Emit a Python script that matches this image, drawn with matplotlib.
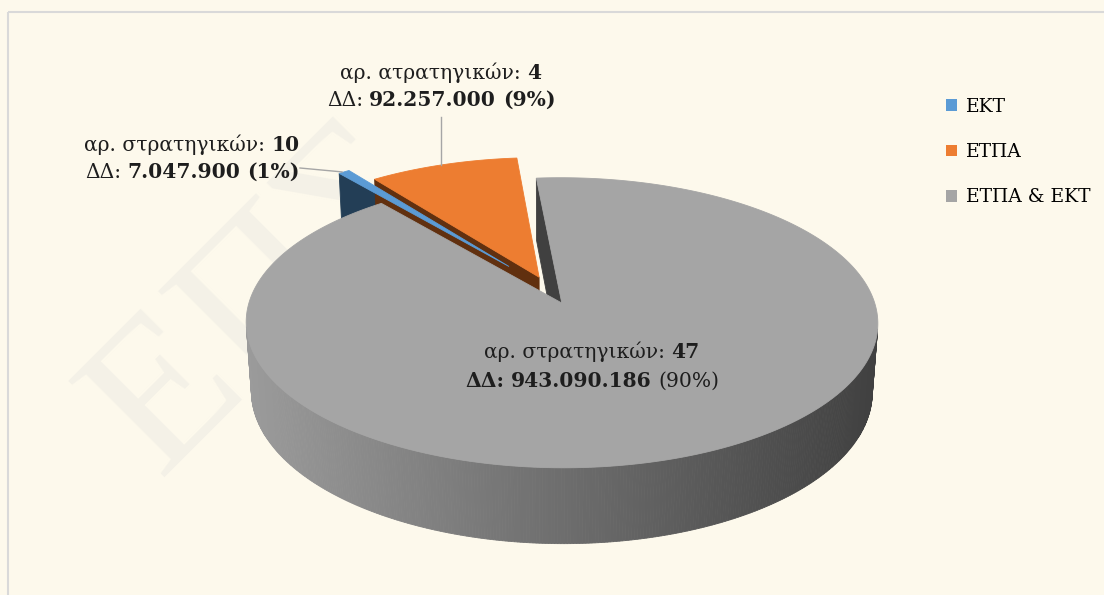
import numpy as np
import matplotlib
matplotlib.use('Agg')
import matplotlib.pyplot as plt
from matplotlib.patches import Patch, Rectangle

# ---------------- data ----------------
categories = ['ΕΚΤ', 'ΕΤΠΑ', 'ΕΤΠΑ & ΕΚΤ']
amounts = [7047900, 92257000, 943090186]
strategies = [10, 4, 47]
count_prefix = ['αρ. στρατηγικών:', 'αρ. ατρατηγικών:', 'αρ. στρατηγικών:']

top_colors = ['#5B9BD5', '#ED7D31', '#A5A5A5']
wall_colors = ['#233E56', '#61300F', '#404040']
explode = [0.22, 0.10, 0.10]
BG = '#FDF9EC'

# ---------------- geometry / style ----------------
W, H = 1104, 595
FIRST_ANGLE = 320.7      # degrees, clockwise from 12 o'clock
THICK = 0.25
PHI = np.deg2rad(26.7)
DIST = 6.65
SCALE = 309 * DIST
CX, CY = 550.0, 290.0
SERIF = 'DejaVu Serif'
FS = 14.6

fig = plt.figure(figsize=(W / 100, H / 100), dpi=100, facecolor=BG)
ax = fig.add_axes([0, 0, 1, 1])
ax.set_xlim(0, W)
ax.set_ylim(H, 0)
ax.axis('off')
ax.set_facecolor(BG)

# faint watermark
ax.text(265, 300, 'ΕΠΣ', rotation=45, fontsize=150, family='Liberation Serif', color='#F4F1E7',
        ha='center', va='center', zorder=0)
ax.add_patch(Rectangle((8, 12), W, H, fill=False, edgecolor='#D9D9D9', lw=1.5, zorder=0.5))

c, s = np.cos(PHI), np.sin(PHI)
CAM = np.array([0.0, -DIST * c, DIST * s])


def proj(X, Y, Z):
    X = np.asarray(X, float); Y = np.asarray(Y, float); Z = np.asarray(Z, float)
    vy = Y + DIST * c
    vz = Z - DIST * s
    depth = vy * c - vz * s
    w = vy * s + vz * c
    return CX + SCALE * X / depth, CY - SCALE * w / depth, depth


total = float(sum(amounts))
fracs = [a / total for a in amounts]
walls = []
tops = []
anchors = []
start = FIRST_ANGLE
for i, f in enumerate(fracs):
    th1 = start
    th2 = start + f * 360.0
    start = th2
    mid = np.deg2rad((th1 + th2) / 2)
    ox, oy = explode[i] * np.sin(mid), explode[i] * np.cos(mid)
    n = max(6, int((th2 - th1) / 0.5))
    ang = np.deg2rad(np.linspace(th1, th2, n))
    rx_ = ox + np.sin(ang)
    ry_ = oy + np.cos(ang)
    px, py, _ = proj(np.r_[ox, rx_], np.r_[oy, ry_], np.zeros(n + 1))
    tops.append((px, py, top_colors[i]))
    ax_, ay_, _ = proj(ox + np.sin(mid), oy + np.cos(mid), 0.0)
    anchors.append((float(ax_), float(ay_)))
    for k in range(n - 1):
        a, b = ang[k], ang[k + 1]
        m = (a + b) / 2
        P = np.array([ox + np.sin(m), oy + np.cos(m), -THICK / 2])
        nrm = np.array([np.sin(m), np.cos(m), 0.0])
        if np.dot(nrm, CAM - P) <= 0:
            continue
        X = [ox + np.sin(a), ox + np.sin(b), ox + np.sin(b), ox + np.sin(a)]
        Y = [oy + np.cos(a), oy + np.cos(b), oy + np.cos(b), oy + np.cos(a)]
        Z = [0, 0, -THICK, -THICK]
        qx, qy, qd = proj(X, Y, Z)
        if i == 2:
            t = np.clip((qx.mean() - 246) / (878 - 246), 0, 1)
            g = 0.61 - 0.36 * t
            col = (g, g, g)
        else:
            col = wall_colors[i]
        walls.append((qd.mean(), qx, qy, col))
    for th, sign in ((th1, -1), (th2, 1)):
        tr = np.deg2rad(th)
        nrm = np.array([sign * np.cos(tr), -sign * np.sin(tr), 0.0])
        X = [ox, ox + np.sin(tr), ox + np.sin(tr), ox]
        Y = [oy, oy + np.cos(tr), oy + np.cos(tr), oy]
        Z = [0, 0, -THICK, -THICK]
        P = np.array([np.mean(X), np.mean(Y), -THICK / 2])
        if np.dot(nrm, CAM - P) <= 0:
            continue
        qx, qy, qd = proj(X, Y, Z)
        walls.append((qd.mean(), qx, qy, wall_colors[i]))

walls.sort(key=lambda w_: -w_[0])
for z, (d, qx, qy, col) in enumerate(walls):
    ax.fill(qx, qy, color=col, lw=0.6, ec=col, zorder=2 + z * 1e-4)
for px, py, col in tops:
    ax.fill(px, py, color=col, lw=0.6, ec=col, zorder=3)

# ---------------- labels ----------------
renderer = fig.canvas.get_renderer()


def measure(txt, weight, size):
    t = ax.text(0, 0, txt, fontsize=size, fontweight=weight, family=SERIF)
    wd = t.get_window_extent(renderer=renderer).width
    t.remove()
    return wd


SPACE = measure('x x', 'normal', FS) - measure('xx', 'normal', FS)


def rich(xc, yb, parts, size=FS, color='#1E1E1E'):
    widths = [measure(p, w, size) for p, w in parts]
    tot = sum(widths) + SPACE * (len(parts) - 1)
    x = xc - tot / 2
    for (p, w), wd in zip(parts, widths):
        ax.text(x, yb, p, fontsize=size, fontweight=w, family=SERIF, color=color,
                ha='left', va='baseline', zorder=5)
        x += wd + SPACE


def fmt(v):
    return f'{v:,}'.replace(',', '.')


pcts = [round(100 * f) for f in fracs]

label_pos = [(192, 151, 178), (441, 79, 106), (592, 358, 387)]
for i in range(3):
    xc, y1, y2 = label_pos[i]
    rich(xc, y1, [(count_prefix[i], 'normal'), (str(strategies[i]), 'bold')])
    if i < 2:
        rich(xc, y2, [('ΔΔ:', 'normal'), (fmt(amounts[i]), 'bold'), (f'({pcts[i]}%)', 'bold')])
    else:
        rich(xc, y2, [('ΔΔ:', 'bold'), (fmt(amounts[i]), 'bold'), (f'({pcts[i]}%)', 'normal')])

# leader lines
ax.plot([300, anchors[0][0] - 2], [168, anchors[0][1]], color='#A6A6A6', lw=1, zorder=4)
ax.plot([441, 441], [117, anchors[1][1]], color='#A6A6A6', lw=1, zorder=4)

# ---------------- legend ----------------
handles = [Patch(facecolor=col, edgecolor='none') for col in top_colors]
fig.legend(handles, categories, loc='upper left', bbox_to_anchor=(929 / W, 1 - 81 / H),
           frameon=False, handlelength=0.6, handleheight=0.6, handletextpad=0.45,
           labelspacing=1.45, prop={'family': SERIF, 'size': 13.5})

fig.savefig('out.png', dpi=100, facecolor=BG)
